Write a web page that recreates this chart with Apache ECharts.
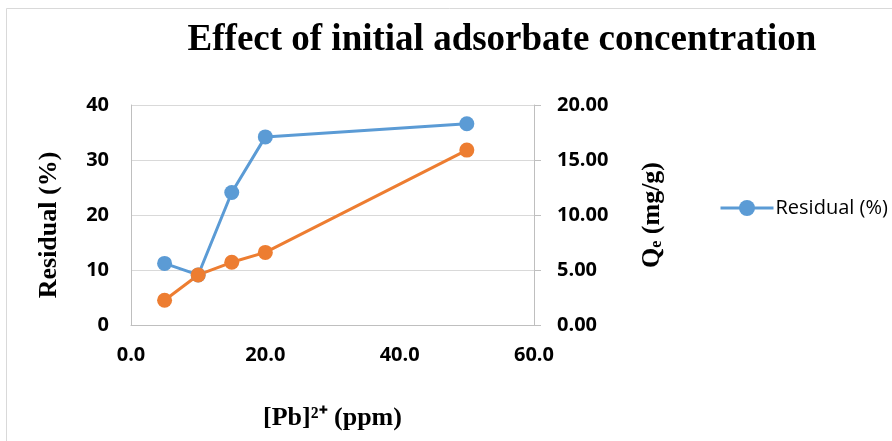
<!DOCTYPE html>
<html><head><meta charset="utf-8">
<script src="https://cdn.jsdelivr.net/npm/echarts@6/dist/echarts.min.js"></script>
<style>html,body{margin:0;padding:0;background:#fff}#c{width:892px;height:441px}</style>
</head><body><div id="c"></div>
<script>
const concentration = [5, 10, 15, 20, 50];
const residual = [11.2, 9.1, 24.1, 34.2, 36.6];
const qe = [2.25, 4.55, 5.7, 6.6, 15.9];
const leftTicks = [0, 10, 20, 30, 40];
const rightTicks = [0, 5, 10, 15, 20];
const xTicks = [0, 20, 40, 60];

const chart = echarts.init(document.getElementById('c'));
const lblFont = {fontFamily: '"Open Sans", "Noto Sans", sans-serif', fontWeight: 'bold', fontSize: 20, color: '#000'};
const nameFont = {fontFamily: '"Liberation Serif", "Times New Roman", serif', fontWeight: 'bold', fontSize: 26, color: '#000'};
chart.setOption({
  animation: false,
  backgroundColor: '#fff',
  graphic: [{type: 'rect', shape: {x: 6.5, y: 8.5, width: 900, height: 440}, style: {fill: 'none', stroke: '#D9D9D9', lineWidth: 1}}],
  title: {text: 'Effect of initial adsorbate concentration', left: 497, top: 17, textAlign: 'center',
    textStyle: {fontFamily: '"Liberation Serif", "Times New Roman", serif', fontWeight: 'bold', fontSize: 37, color: '#000'}},
  legend: {data: ['Residual (%)'], left: 714, top: 193, itemWidth: 53, itemHeight: 20, itemGap: 6,
    lineStyle: {width: 3},
    textStyle: {fontFamily: '"Open Sans", "Noto Sans", sans-serif', fontSize: 20, color: '#000', padding: [0, 0, 0, -3]}},
  grid: {left: 131, right: 358, top: 105, bottom: 116},
  xAxis: {type: 'value', min: xTicks[0], max: xTicks[xTicks.length-1], interval: 20,
    name: '[Pb]²⁺ (ppm)', nameLocation: 'middle', nameGap: 80, nameTextStyle: nameFont,
    axisLine: {show: true, lineStyle: {color: '#BFBFBF', width: 1}}, axisTick: {show: false},
    splitLine: {show: false},
    axisLabel: Object.assign({margin: 20, formatter: v => v.toFixed(1)}, lblFont)},
  yAxis: [
    {type: 'value', min: leftTicks[0], max: leftTicks[leftTicks.length-1], interval: 10, position: 'left',
     name: 'Residual (%)', nameLocation: 'middle', nameRotate: 90, nameGap: 69,
     nameTextStyle: Object.assign({padding: [0, 20, 0, 0]}, nameFont),
     axisLine: {show: true, lineStyle: {color: '#BFBFBF', width: 1}}, axisTick: {show: false},
     splitLine: {lineStyle: {color: '#D9D9D9', width: 1}},
     axisLabel: Object.assign({margin: 22}, lblFont)},
    {type: 'value', min: rightTicks[0], max: rightTicks[rightTicks.length-1], interval: 5, position: 'right',
     name: '{m|Q}{s|e}{m| (mg/g)}', nameLocation: 'middle', nameRotate: 90, nameGap: 105,
     nameTextStyle: {rich: {m: nameFont, s: Object.assign({}, nameFont, {fontSize: 16, padding: [10, 0, 0, 0]})}},
     axisLine: {show: true, lineStyle: {color: '#BFBFBF', width: 1}},
     axisTick: {show: true, length: 7, lineStyle: {color: '#BFBFBF'}},
     splitLine: {show: false},
     axisLabel: Object.assign({margin: 23, formatter: v => v.toFixed(2)}, lblFont)}
  ],
  series: [
    {name: 'Residual (%)', type: 'line', yAxisIndex: 0, data: concentration.map((x, i) => [x, residual[i]]),
     symbol: 'circle', symbolSize: 15, lineStyle: {color: '#5B9BD5', width: 3}, itemStyle: {color: '#5B9BD5'}},
    {name: 'Qe', type: 'line', yAxisIndex: 1, data: concentration.map((x, i) => [x, qe[i]]),
     symbol: 'circle', symbolSize: 15, lineStyle: {color: '#ED7D31', width: 3}, itemStyle: {color: '#ED7D31'}}
  ]
});
</script></body></html>
